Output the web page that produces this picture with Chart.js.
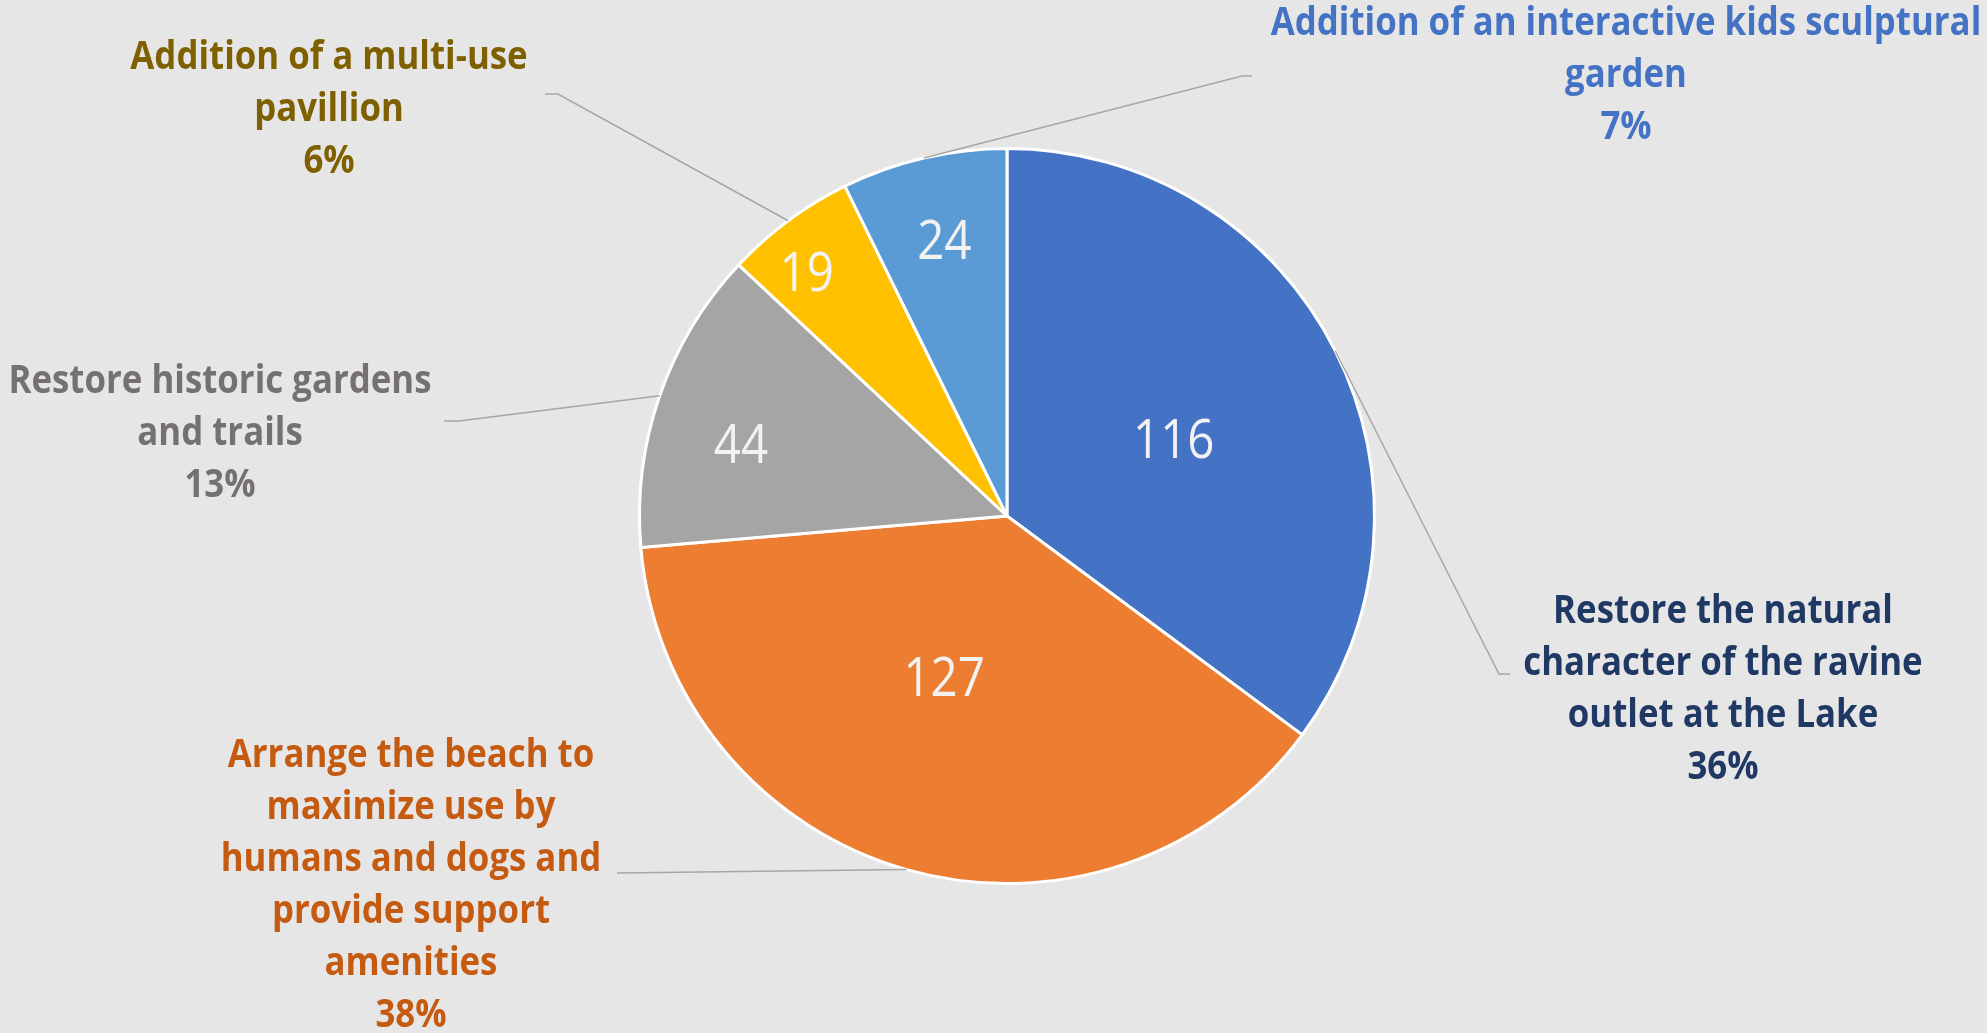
<!DOCTYPE html>
<html>
<head>
<meta charset="utf-8">
<script src="https://cdn.jsdelivr.net/npm/chart.js@4/dist/chart.umd.min.js"></script>
<style>
html,body{margin:0;padding:0;background:#e7e6e6;overflow:hidden}
canvas{display:block}
</style>
</head>
<body>
<canvas id="mycanvas" width="1987" height="1033"></canvas>
<script>
// data
var categories=[
	['Restore the natural','character of the ravine','outlet at the Lake'],
	['Arrange the beach to','maximize use by','humans and dogs and','provide support','amenities'],
	['Restore historic gardens','and trails'],
	['Addition of a multi-use','pavillion'],
	['Addition of an interactive kids sculptural','garden']
];
var votes=[116,127,44,19,24];
var percentLabels=['36%','38%','13%','6%','7%'];

var sliceColors=['#4472c4','#ed7d31','#a5a5a5','#ffc000','#5b9bd5'];
var labelColors=['#203864','#c55a11','#767171','#7f6000','#4472c4'];

// where each value sits inside its slice (fraction of radius, angle nudge in degrees)
var valueRadius=[0.5,0.47,0.75,0.86,0.77];
var valueNudge=[1.9,5.5,-3.9,-2.8,0.3];
// outside label boxes: text centre x, first line y, leader elbow, leader end
var callouts=[
	{x:1723,y:612,ex:1499,ey:674,tx:1510},
	{x:411,y:756,ex:617,ey:873,tx:617},
	{x:220,y:382,ex:459,ey:421,tx:444},
	{x:329,y:58,ex:558,ey:94,tx:545},
	{x:1626,y:24,ex:1242,ey:76,tx:1252}
];

// Calibri-ish: squeeze Open Sans a little
function narrowText(ctx,t,x,y,sx){
	ctx.save();
	ctx.translate(x,y);
	ctx.scale(sx,1);
	ctx.fillText(t,0,0);
	ctx.restore();
}

var pieLabels={
	id:'pieLabels',
	afterDatasetsDraw:function(chart){
		var ctx=chart.ctx;
		var meta=chart.getDatasetMeta(0);
		ctx.save();
		ctx.textAlign='center';
		ctx.textBaseline='middle';
		meta.data.forEach(function(arc,i){
			var p=arc.getProps(['x','y','startAngle','endAngle','outerRadius'],true);
			var mid=(p.startAngle+p.endAngle)/2;

			// value inside
			var a=mid+valueNudge[i]*Math.PI/180;
			var r=p.outerRadius*valueRadius[i];
			ctx.fillStyle='#f2f2f2';
			ctx.font='54px "Open Sans", sans-serif';
			narrowText(ctx,String(votes[i]),p.x+Math.cos(a)*r,p.y+Math.sin(a)*r+4,0.88);

			// leader line
			var c=callouts[i];
			ctx.strokeStyle='#a6a6a6';
			ctx.lineWidth=1.5;
			ctx.beginPath();
			ctx.moveTo(p.x+Math.cos(mid)*p.outerRadius,p.y+Math.sin(mid)*p.outerRadius);
			ctx.lineTo(c.ex,c.ey);
			ctx.lineTo(c.tx,c.ey);
			ctx.stroke();

			// category + percent
			var lines=categories[i].concat([percentLabels[i]]);
			ctx.fillStyle=labelColors[i];
			ctx.font='bold 40px "Open Sans", sans-serif';
			lines.forEach(function(t,k){
				narrowText(ctx,t,c.x,c.y+k*52,0.87);
			});
		});
		ctx.restore();
	}
};

var ctx=document.getElementById('mycanvas');

var pieChart=new Chart(ctx,{
	type:'pie',
	data:{
		labels:categories,
		datasets:[{
			data:votes,
			backgroundColor:sliceColors,
			borderColor:'#ffffff',
			borderWidth:3
		}]
	},
	options:{
		responsive:false,
		animation:false,
		events:[],
		layout:{padding:{left:638,right:611,top:147,bottom:148}},
		plugins:{
			legend:{display:false},
			tooltip:{enabled:false}
		}
	},
	plugins:[pieLabels]
});
</script>
</body>
</html>
